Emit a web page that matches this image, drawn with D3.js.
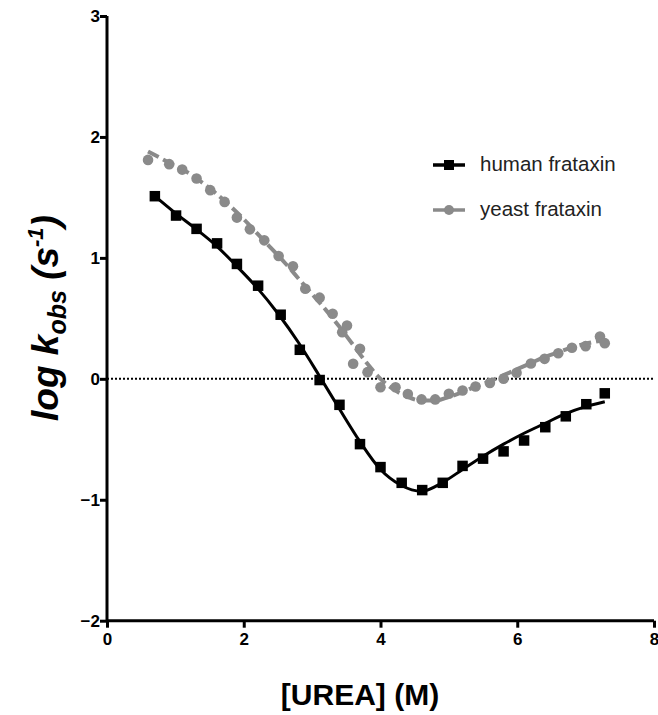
<!DOCTYPE html>
<html><head><meta charset="utf-8">
<script src="https://cdn.jsdelivr.net/npm/d3@7/dist/d3.min.js"></script>
<style>body{margin:0;background:#fff}svg{display:block}text{font-family:"Liberation Sans",Arial,sans-serif}</style>
</head><body><div id="chart"></div>
<script>
const xTicks=[0,2,4,6,8];
const yTicks=[-2,-1,0,1,2,3];
const humanX=[0.70,1.01,1.31,1.61,1.90,2.21,2.54,2.82,3.11,3.40,3.70,4.00,4.31,4.61,4.91,5.20,5.50,5.80,6.10,6.41,6.71,7.01,7.28];
const humanY=[1.51,1.35,1.24,1.12,0.95,0.77,0.53,0.24,-0.01,-0.215,-0.54,-0.73,-0.86,-0.92,-0.86,-0.72,-0.66,-0.60,-0.51,-0.40,-0.31,-0.21,-0.12];
const humanFitX=[0.70,1.0,1.3,1.6,1.9,2.2,2.5,2.8,3.1,3.4,3.7,4.0,4.3,4.6,4.9,5.2,5.5,5.8,6.1,6.4,6.7,7.0,7.28];
const humanFitY=[1.51,1.37,1.24,1.10,0.93,0.75,0.54,0.30,0.03,-0.25,-0.52,-0.75,-0.88,-0.93,-0.86,-0.75,-0.64,-0.54,-0.45,-0.37,-0.29,-0.23,-0.19];
const yeastX=[0.60,0.91,1.10,1.31,1.51,1.72,1.90,2.09,2.30,2.51,2.72,2.90,3.11,3.30,3.44,3.51,3.60,3.70,3.81,4.00,4.22,4.40,4.60,4.80,5.00,5.20,5.39,5.60,5.80,5.99,6.20,6.40,6.60,6.80,7.00,7.21,7.28];
const yeastY=[1.81,1.775,1.73,1.656,1.56,1.463,1.333,1.236,1.145,1.015,0.93,0.745,0.671,0.538,0.386,0.441,0.124,0.248,0.055,-0.07,-0.07,-0.125,-0.17,-0.17,-0.124,-0.097,-0.064,-0.034,0.0,0.05,0.127,0.165,0.212,0.257,0.27,0.35,0.295];
const yeastFitX=[0.6,0.8,1.0,1.2,1.4,1.6,1.8,2.0,2.2,2.4,2.6,2.8,3.0,3.2,3.4,3.6,3.8,4.0,4.2,4.4,4.6,4.8,5.0,5.2,5.4,5.6,5.8,6.0,6.2,6.4,6.6,6.8,7.0,7.28];
const yeastFitY=[1.88,1.82,1.76,1.70,1.62,1.53,1.43,1.32,1.20,1.08,0.96,0.83,0.70,0.57,0.43,0.28,0.13,0.0,-0.09,-0.15,-0.18,-0.18,-0.15,-0.11,-0.06,-0.02,0.03,0.08,0.13,0.18,0.22,0.26,0.29,0.32];
const seriesNames=["human frataxin","yeast frataxin"];
const gray="#8a8a8a";

const W=658,H=715;
const svg=d3.select("#chart").append("svg").attr("width",W).attr("height",H);
const x=d3.scaleLinear().domain([0,8]).range([107,654]);
const y=d3.scaleLinear().domain([-2,3]).range([620.7,16]);

// zero dotted line
svg.append("line").attr("x1",x(0)).attr("x2",x(8)).attr("y1",y(0)).attr("y2",y(0))
  .attr("stroke","#000").attr("stroke-width",2).attr("stroke-dasharray","2,2");

// axes
const xa=svg.append("g").attr("transform",`translate(0,${y(-2)})`)
  .call(d3.axisBottom(x).tickValues(xTicks).tickSize(7).tickPadding(5).tickFormat(d3.format("d")));
const ya=svg.append("g").attr("transform",`translate(${x(0)},0)`)
  .call(d3.axisLeft(y).tickValues(yTicks).tickSize(7).tickPadding(0).tickFormat(d3.format("d")));
[xa,ya].forEach(a=>{
  a.select(".domain").attr("stroke","#000").attr("stroke-width",3);
  a.selectAll(".tick line").attr("stroke","#000").attr("stroke-width",3);
  a.selectAll(".tick text").attr("fill","#000").attr("font-size",17).attr("font-weight","bold")
   .attr("font-family","'Liberation Sans',Arial,sans-serif");
});
xa.select(".domain").attr("d",`M${x(0)},0H${x(8)}`);
ya.select(".domain").attr("d",`M0,${y(3)}V${y(-2)}`);

const line=d3.line().x(d=>x(d[0])).y(d=>y(d[1])).curve(d3.curveMonotoneX);
const hFit=humanFitX.map((v,i)=>[v,humanFitY[i]]);
const yFit=yeastFitX.map((v,i)=>[v,yeastFitY[i]]);

// yeast
svg.append("path").datum(yFit).attr("d",line).attr("fill","none").attr("stroke",gray)
  .attr("stroke-width",4).attr("stroke-dasharray","12,5");
svg.append("g").selectAll("circle").data(yeastX.map((v,i)=>[v,yeastY[i]])).join("circle")
  .attr("cx",d=>x(d[0])).attr("cy",d=>y(d[1])).attr("r",5.3).attr("fill",gray);

// human
svg.append("path").datum(hFit).attr("d",line).attr("fill","none").attr("stroke","#000").attr("stroke-width",3);
const s=10.5;
svg.append("g").selectAll("rect").data(humanX.map((v,i)=>[v,humanY[i]])).join("rect")
  .attr("x",d=>x(d[0])-s/2).attr("y",d=>y(d[1])-s/2).attr("width",s).attr("height",s).attr("fill","#000");

// legend
const lg=svg.append("g");
const legY=[165,210];
[0,1].forEach(i=>{
  const c=i===0?"#000":gray;
  lg.append("line").attr("x1",433).attr("x2",465).attr("y1",legY[i]).attr("y2",legY[i]).attr("stroke",c).attr("stroke-width",3.5);
  if(i===0) lg.append("rect").attr("x",449-5).attr("y",legY[i]-5).attr("width",10).attr("height",10).attr("fill",c);
  else lg.append("circle").attr("cx",449).attr("cy",legY[i]).attr("r",5).attr("fill",c);
  lg.append("text").attr("x",480).attr("y",legY[i]+6).attr("font-size",20.5).attr("fill","#222").text(seriesNames[i]);
});

// x title
svg.append("text").attr("x",360).attr("y",705).attr("text-anchor","middle").attr("font-size",30)
  .attr("font-weight","bold").attr("fill","#000").text("[UREA] (M)");

// y title
const yt=svg.append("text").attr("transform","translate(58,318) rotate(-90)").attr("text-anchor","middle")
  .attr("font-size",37).attr("font-weight","bold").attr("font-style","italic").attr("fill","#000");
yt.append("tspan").text("log k");
yt.append("tspan").attr("font-size",25).attr("dy",8).text("obs");
yt.append("tspan").attr("dy",-8).text("  (s");
yt.append("tspan").attr("font-size",22).attr("dy",-15).text("-1");
yt.append("tspan").attr("dy",15).text(")");
</script></body></html>
